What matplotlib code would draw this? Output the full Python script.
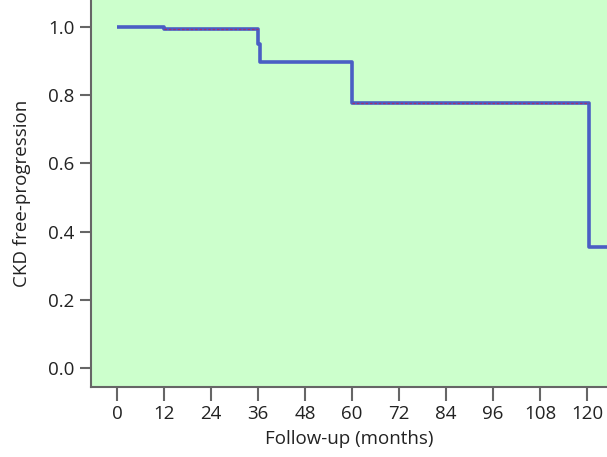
import matplotlib
matplotlib.use("Agg")
import matplotlib.pyplot as plt

# Kaplan-Meier step data (months, survival)
times = [0, 12, 36, 36.5, 60, 120.5, 126]
surv = [1.0, 0.995, 0.95, 0.897, 0.777, 0.355, 0.355]
x_ticks = [0, 12, 24, 36, 48, 60, 72, 84, 96, 108, 120]
y_ticks = [0.0, 0.2, 0.4, 0.6, 0.8, 1.0]

plt.rcParams['font.family'] = ['Open Sans', 'DejaVu Sans']
fig = plt.figure(figsize=(6.07, 4.57), dpi=100)
ax = fig.add_axes([0.150, 0.153, 0.85, 0.847])
ax.set_facecolor('#ccffcc')

ax.step(times, surv, where='post', color='#4a5ec4', lw=2.6, solid_capstyle='butt')
ax.plot([12, 36], [0.995, 0.995], color='#a03070', lw=0.9, ls=(0, (2, 1.5)))
ax.plot([60, 120.5], [0.777, 0.777], color='#a03070', lw=0.9, ls=(0, (2, 1.5)))

ax.set_xlim(-6.6, 125.1)
ax.set_ylim(-0.056, 1.079)
ax.set_xticks(x_ticks)
ax.set_xticklabels([str(t) for t in x_ticks])
ax.set_yticks(y_ticks)
ax.set_yticklabels([f"{v:.1f}" for v in y_ticks])

for s in ['top', 'right']:
    ax.spines[s].set_visible(False)
for s in ['left', 'bottom']:
    ax.spines[s].set_color('#666666')
    ax.spines[s].set_linewidth(1.5)
ax.tick_params(axis='both', colors='#666666', width=1.5, length=8, labelsize=13.5, labelcolor='#222222')
ax.tick_params(axis='x', length=10, pad=3)
ax.tick_params(axis='y', pad=4)

ax.set_xlabel('Follow-up (months)', fontsize=13.5, color='#222222', labelpad=5)
ax.set_ylabel('CKD free-progression', fontsize=13.5, color='#222222', labelpad=12)

fig.savefig('out.png', dpi=100, facecolor='white')
